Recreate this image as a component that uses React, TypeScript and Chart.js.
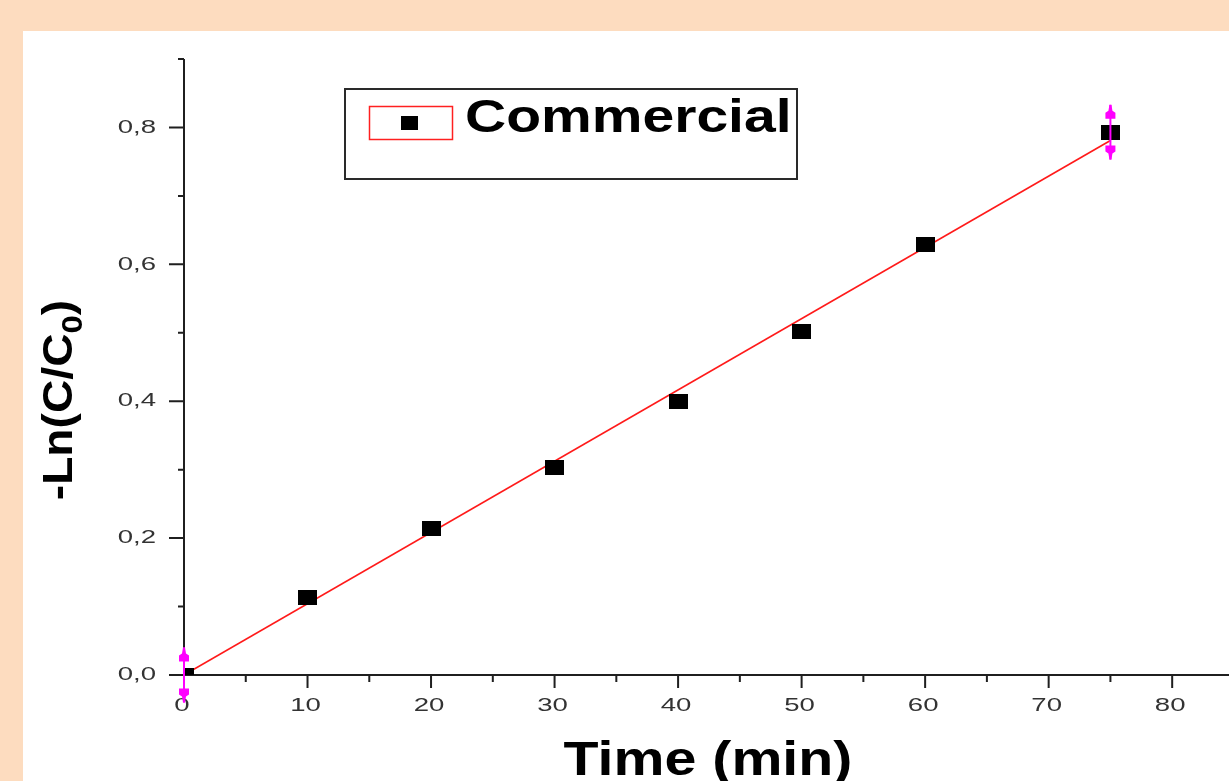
import React, { useEffect, useRef } from 'react';
import { Chart, registerables } from 'chart.js';

Chart.register(...registerables);

// Measured kinetics: -ln(C/C0) against irradiation time
const timeMin = [0, 10, 20, 30, 40, 50, 60, 75];
const lnRatio = [0.0, 0.113, 0.214, 0.303, 0.4, 0.502, 0.629, 0.793];
const lnError = [0.04, 0, 0, 0, 0, 0, 0, 0.04];

// Linear fit through the measurements
const fitTime = [0, 75];
const fitLn = [0.0, 0.781];

// Axis ticks
const xTickValues = [0, 10, 20, 30, 40, 50, 60, 70, 80];
const xTickLabels = ['0', '10', '20', '30', '40', '50', '60', '70', '80'];
const xMinorTicks = [5, 15, 25, 35, 45, 55, 65, 75];
const yTickValues = [0, 0.2, 0.4, 0.6, 0.8];
const yTickLabels = ['0,0', '0,2', '0,4', '0,6', '0,8'];
const yMinorTicks = [0.1, 0.3, 0.5, 0.7, 0.9];

const X_MIN = 0;
const X_MAX = 84.6;
const Y_MIN = 0;
const Y_MAX = 0.9;

const SERIES_LABEL = 'Commercial';
const X_TITLE = 'Time (min)';
const Y_TITLE_MAIN = '-Ln(C/C';
const Y_TITLE_SUB = '0';
const Y_TITLE_TAIL = ')';

const FONT = '"Liberation Sans", Arial, Helvetica, sans-serif';

function stretchedText(
  ctx: CanvasRenderingContext2D,
  text: string,
  x: number,
  y: number,
  sx: number,
  align: CanvasTextAlign
) {
  ctx.save();
  ctx.translate(x, y);
  ctx.scale(sx, 1);
  ctx.textAlign = align;
  ctx.fillText(text, 0, 0);
  ctx.restore();
}

function makeMarker(w: number, h: number): HTMLCanvasElement {
  const c = document.createElement('canvas');
  c.width = w;
  c.height = h;
  const g = c.getContext('2d')!;
  g.fillStyle = '#000';
  g.fillRect(0, 0, w, h);
  return c;
}

// Axes in the plotting-software style: outward major/minor ticks, stretched labels
const axesPlugin = {
  id: 'outwardAxes',
  beforeDatasetsDraw(chart: any) {
    const { ctx, scales } = chart;
    const xs = scales.x;
    const ys = scales.y;
    const x0 = xs.getPixelForValue(X_MIN);
    const y0 = ys.getPixelForValue(Y_MIN);
    const yTop = ys.getPixelForValue(Y_MAX);

    ctx.save();
    ctx.strokeStyle = '#1f1f1f';
    ctx.lineWidth = 2;
    ctx.beginPath();
    ctx.moveTo(x0, yTop);
    ctx.lineTo(x0, y0);
    ctx.moveTo(x0, y0);
    ctx.lineTo(chart.width, y0);
    xTickValues.forEach((v) => {
      const px = xs.getPixelForValue(v);
      ctx.moveTo(px, y0);
      ctx.lineTo(px, y0 + 13);
    });
    xMinorTicks.forEach((v) => {
      const px = xs.getPixelForValue(v);
      ctx.moveTo(px, y0);
      ctx.lineTo(px, y0 + 7);
    });
    yTickValues.forEach((v) => {
      const py = ys.getPixelForValue(v);
      ctx.moveTo(x0, py);
      ctx.lineTo(x0 - 15, py);
    });
    yMinorTicks.forEach((v) => {
      const py = ys.getPixelForValue(v);
      ctx.moveTo(x0, py);
      ctx.lineTo(x0 - 6, py);
    });
    ctx.stroke();

    ctx.fillStyle = '#333333';
    ctx.font = `19px ${FONT}`;
    ctx.textBaseline = 'middle';
    xTickValues.forEach((v, i) => {
      stretchedText(ctx, xTickLabels[i], xs.getPixelForValue(v) - 2, y0 + 31, 1.45, 'center');
    });
    yTickValues.forEach((v, i) => {
      stretchedText(ctx, yTickLabels[i], x0 - 28, ys.getPixelForValue(v), 1.45, 'right');
    });

    // X axis title
    ctx.fillStyle = '#000';
    ctx.textBaseline = 'alphabetic';
    ctx.font = `bold 49px ${FONT}`;
    stretchedText(ctx, X_TITLE, 685, 744, 1.17, 'center');

    // Y axis title with subscript
    ctx.save();
    ctx.translate(49, 369);
    ctx.rotate(-Math.PI / 2);
    ctx.scale(1.1, 1);
    ctx.textAlign = 'left';
    ctx.font = `bold 42px ${FONT}`;
    const wMain = ctx.measureText(Y_TITLE_MAIN).width;
    const wTail = ctx.measureText(Y_TITLE_TAIL).width;
    ctx.font = `bold 30px ${FONT}`;
    const wSub = ctx.measureText(Y_TITLE_SUB).width;
    const start = -(wMain + wSub + wTail) / 2;
    ctx.font = `bold 42px ${FONT}`;
    ctx.fillText(Y_TITLE_MAIN, start, 0);
    ctx.fillText(Y_TITLE_TAIL, start + wMain + wSub, 0);
    ctx.font = `bold 30px ${FONT}`;
    ctx.fillText(Y_TITLE_SUB, start + wMain, 10);
    ctx.restore();

    ctx.restore();
  },
  afterDatasetsDraw(chart: any) {
    const { ctx, scales } = chart;
    const xs = scales.x;
    const ys = scales.y;

    // Error bars with arrow caps
    ctx.save();
    ctx.strokeStyle = '#ff00ff';
    ctx.fillStyle = '#ff00ff';
    ctx.lineWidth = 2;
    timeMin.forEach((t, i) => {
      const err = lnError[i];
      if (!err) return;
      const px = xs.getPixelForValue(t);
      const pTop = ys.getPixelForValue(lnRatio[i] + err);
      const pBot = ys.getPixelForValue(lnRatio[i] - err);
      ctx.beginPath();
      ctx.moveTo(px, pTop);
      ctx.lineTo(px, pBot);
      ctx.stroke();
      [
        [pTop, 1],
        [pBot, -1],
      ].forEach(([tip, dir]) => {
        ctx.beginPath();
        ctx.moveTo(px - 1, tip);
        ctx.lineTo(px + 1, tip);
        ctx.lineTo(px + 2, tip + dir * 6);
        ctx.lineTo(px + 5, tip + dir * 8);
        ctx.lineTo(px + 5, tip + dir * 14);
        ctx.lineTo(px - 5, tip + dir * 14);
        ctx.lineTo(px - 5, tip + dir * 8);
        ctx.lineTo(px - 2, tip + dir * 6);
        ctx.closePath();
        ctx.fill();
      });
    });
    ctx.restore();

    // Legend box
    ctx.save();
    ctx.strokeStyle = '#2a2a2a';
    ctx.lineWidth = 2;
    ctx.strokeRect(322, 58, 452, 90);
    ctx.strokeStyle = '#ff2020';
    ctx.lineWidth = 1.5;
    ctx.strokeRect(346.5, 75.5, 83, 33);
    ctx.fillStyle = '#000';
    ctx.fillRect(378, 85, 17, 14);
    ctx.font = `bold 46px ${FONT}`;
    ctx.textBaseline = 'alphabetic';
    stretchedText(ctx, SERIES_LABEL, 442, 101, 1.24, 'left');
    ctx.restore();
  },
};

export default function App() {
  const canvasRef = useRef<HTMLCanvasElement | null>(null);

  useEffect(() => {
    const canvas = canvasRef.current;
    if (!canvas) return;
    const marker = makeMarker(19, 15);

    const chart = new Chart(canvas, {
      type: 'scatter',
      data: {
        datasets: [
          {
            type: 'line',
            label: 'Linear fit',
            data: fitTime.map((t, i) => ({ x: t, y: fitLn[i] })),
            borderColor: '#ff1a1a',
            borderWidth: 1.6,
            pointRadius: 0,
            fill: false,
            clip: 0,
            order: 2,
          } as any,
          {
            type: 'scatter',
            label: SERIES_LABEL,
            data: timeMin.map((t, i) => ({ x: t, y: lnRatio[i] })),
            pointStyle: marker as any,
            pointRadius: 8,
            backgroundColor: '#000',
            borderColor: '#000',
            clip: 0,
            order: 1,
          } as any,
        ],
      },
      options: {
        animation: false,
        responsive: false,
        maintainAspectRatio: false,
        devicePixelRatio: 1,
        events: [],
        layout: { autoPadding: false, padding: { top: 28, left: 0, right: 0, bottom: 0 } },
        plugins: {
          legend: { display: false },
          tooltip: { enabled: false },
          title: { display: false },
        },
        scales: {
          x: {
            type: 'linear',
            min: X_MIN,
            max: X_MAX,
            grid: { display: false },
            border: { display: false },
            ticks: { display: false },
            afterFit: (s: any) => {
              s.height = 106;
            },
          },
          y: {
            type: 'linear',
            min: Y_MIN,
            max: Y_MAX,
            grid: { display: false },
            border: { display: false },
            ticks: { display: false },
            afterFit: (s: any) => {
              s.width = 161;
            },
          },
        },
      } as any,
      plugins: [axesPlugin],
    });

    return () => {
      chart.destroy();
    };
  }, []);

  return (
    <div
      style={{
        position: 'absolute',
        left: 0,
        top: 0,
        width: 1229,
        height: 781,
        background: '#fddcbf',
        overflow: 'hidden',
      }}
    >
      <div
        style={{
          position: 'absolute',
          left: 23,
          top: 31,
          width: 1206,
          height: 750,
          background: '#ffffff',
        }}
      >
        <canvas ref={canvasRef} width={1206} height={750} style={{ display: 'block' }} />
      </div>
    </div>
  );
}
